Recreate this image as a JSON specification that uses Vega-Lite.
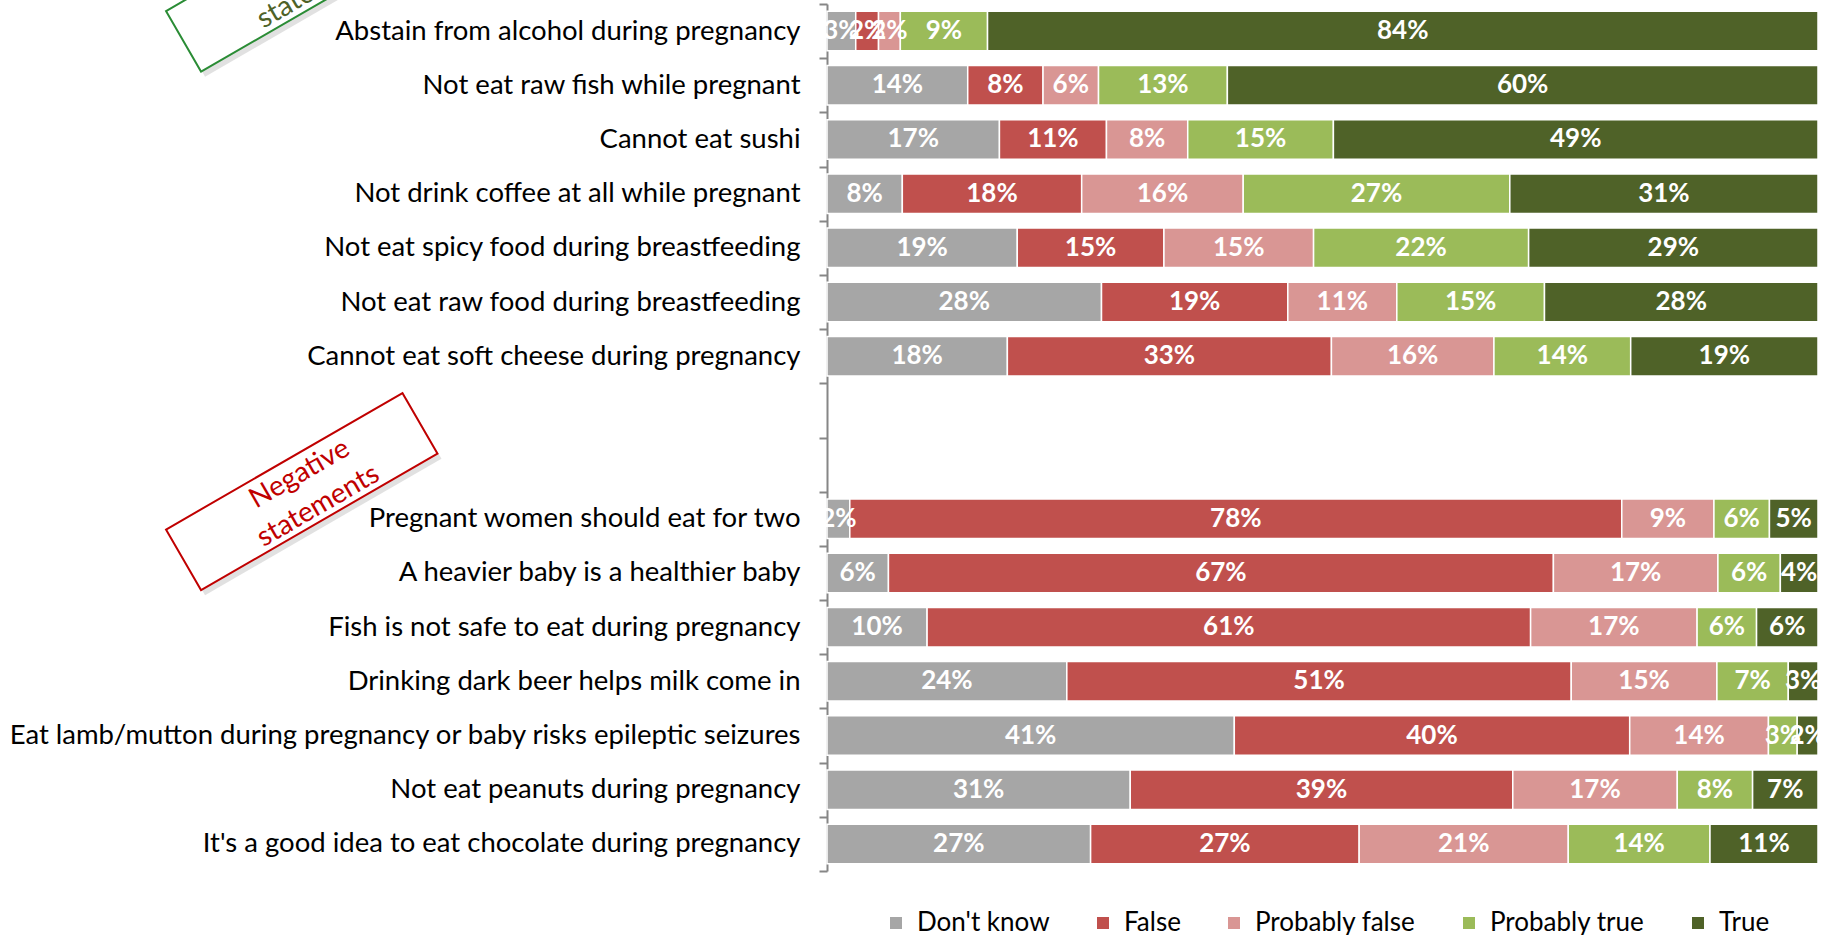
{
  "$schema": "https://vega.github.io/schema/vega-lite/v6.json",
  "width": 991,
  "height": 867,
  "autosize": {"type": "none"},
  "padding": {"left": 827, "top": 4, "right": 6, "bottom": 64},
  "background": "white",
  "config": {
    "view": {"stroke": null},
    "font": "Lato"
  },
  "datasets": {
    "survey": [
      {"statement": "Abstain from alcohol during pregnancy", "answer": "Don't know", "share": 0.029},
      {"statement": "Abstain from alcohol during pregnancy", "answer": "False", "share": 0.023},
      {"statement": "Abstain from alcohol during pregnancy", "answer": "Probably false", "share": 0.022},
      {"statement": "Abstain from alcohol during pregnancy", "answer": "Probably true", "share": 0.088},
      {"statement": "Abstain from alcohol during pregnancy", "answer": "True", "share": 0.838},
      {"statement": "Not eat raw fish while pregnant", "answer": "Don't know", "share": 0.142},
      {"statement": "Not eat raw fish while pregnant", "answer": "False", "share": 0.076},
      {"statement": "Not eat raw fish while pregnant", "answer": "Probably false", "share": 0.056},
      {"statement": "Not eat raw fish while pregnant", "answer": "Probably true", "share": 0.130},
      {"statement": "Not eat raw fish while pregnant", "answer": "True", "share": 0.596},
      {"statement": "Cannot eat sushi", "answer": "Don't know", "share": 0.174},
      {"statement": "Cannot eat sushi", "answer": "False", "share": 0.108},
      {"statement": "Cannot eat sushi", "answer": "Probably false", "share": 0.082},
      {"statement": "Cannot eat sushi", "answer": "Probably true", "share": 0.147},
      {"statement": "Cannot eat sushi", "answer": "True", "share": 0.489},
      {"statement": "Not drink coffee at all while pregnant", "answer": "Don't know", "share": 0.076},
      {"statement": "Not drink coffee at all while pregnant", "answer": "False", "share": 0.181},
      {"statement": "Not drink coffee at all while pregnant", "answer": "Probably false", "share": 0.163},
      {"statement": "Not drink coffee at all while pregnant", "answer": "Probably true", "share": 0.269},
      {"statement": "Not drink coffee at all while pregnant", "answer": "True", "share": 0.311},
      {"statement": "Not eat spicy food during breastfeeding", "answer": "Don't know", "share": 0.192},
      {"statement": "Not eat spicy food during breastfeeding", "answer": "False", "share": 0.148},
      {"statement": "Not eat spicy food during breastfeeding", "answer": "Probably false", "share": 0.151},
      {"statement": "Not eat spicy food during breastfeeding", "answer": "Probably true", "share": 0.217},
      {"statement": "Not eat spicy food during breastfeeding", "answer": "True", "share": 0.292},
      {"statement": "Not eat raw food during breastfeeding", "answer": "Don't know", "share": 0.277},
      {"statement": "Not eat raw food during breastfeeding", "answer": "False", "share": 0.188},
      {"statement": "Not eat raw food during breastfeeding", "answer": "Probably false", "share": 0.110},
      {"statement": "Not eat raw food during breastfeeding", "answer": "Probably true", "share": 0.149},
      {"statement": "Not eat raw food during breastfeeding", "answer": "True", "share": 0.276},
      {"statement": "Cannot eat soft cheese during pregnancy", "answer": "Don't know", "share": 0.182},
      {"statement": "Cannot eat soft cheese during pregnancy", "answer": "False", "share": 0.327},
      {"statement": "Cannot eat soft cheese during pregnancy", "answer": "Probably false", "share": 0.164},
      {"statement": "Cannot eat soft cheese during pregnancy", "answer": "Probably true", "share": 0.138},
      {"statement": "Cannot eat soft cheese during pregnancy", "answer": "True", "share": 0.189},
      {"statement": "Pregnant women should eat for two", "answer": "Don't know", "share": 0.023},
      {"statement": "Pregnant women should eat for two", "answer": "False", "share": 0.779},
      {"statement": "Pregnant women should eat for two", "answer": "Probably false", "share": 0.093},
      {"statement": "Pregnant women should eat for two", "answer": "Probably true", "share": 0.056},
      {"statement": "Pregnant women should eat for two", "answer": "True", "share": 0.049},
      {"statement": "A heavier baby is a healthier baby", "answer": "Don't know", "share": 0.062},
      {"statement": "A heavier baby is a healthier baby", "answer": "False", "share": 0.671},
      {"statement": "A heavier baby is a healthier baby", "answer": "Probably false", "share": 0.166},
      {"statement": "A heavier baby is a healthier baby", "answer": "Probably true", "share": 0.063},
      {"statement": "A heavier baby is a healthier baby", "answer": "True", "share": 0.038},
      {"statement": "Fish is not safe to eat during pregnancy", "answer": "Don't know", "share": 0.101},
      {"statement": "Fish is not safe to eat during pregnancy", "answer": "False", "share": 0.609},
      {"statement": "Fish is not safe to eat during pregnancy", "answer": "Probably false", "share": 0.168},
      {"statement": "Fish is not safe to eat during pregnancy", "answer": "Probably true", "share": 0.060},
      {"statement": "Fish is not safe to eat during pregnancy", "answer": "True", "share": 0.062},
      {"statement": "Drinking dark beer helps milk come in", "answer": "Don't know", "share": 0.242},
      {"statement": "Drinking dark beer helps milk come in", "answer": "False", "share": 0.509},
      {"statement": "Drinking dark beer helps milk come in", "answer": "Probably false", "share": 0.147},
      {"statement": "Drinking dark beer helps milk come in", "answer": "Probably true", "share": 0.072},
      {"statement": "Drinking dark beer helps milk come in", "answer": "True", "share": 0.030},
      {"statement": "Eat lamb/mutton during pregnancy or baby risks epileptic seizures", "answer": "Don't know", "share": 0.411},
      {"statement": "Eat lamb/mutton during pregnancy or baby risks epileptic seizures", "answer": "False", "share": 0.399},
      {"statement": "Eat lamb/mutton during pregnancy or baby risks epileptic seizures", "answer": "Probably false", "share": 0.140},
      {"statement": "Eat lamb/mutton during pregnancy or baby risks epileptic seizures", "answer": "Probably true", "share": 0.029},
      {"statement": "Eat lamb/mutton during pregnancy or baby risks epileptic seizures", "answer": "True", "share": 0.021},
      {"statement": "Not eat peanuts during pregnancy", "answer": "Don't know", "share": 0.306},
      {"statement": "Not eat peanuts during pregnancy", "answer": "False", "share": 0.386},
      {"statement": "Not eat peanuts during pregnancy", "answer": "Probably false", "share": 0.166},
      {"statement": "Not eat peanuts during pregnancy", "answer": "Probably true", "share": 0.076},
      {"statement": "Not eat peanuts during pregnancy", "answer": "True", "share": 0.066},
      {"statement": "It's a good idea to eat chocolate during pregnancy", "answer": "Don't know", "share": 0.266},
      {"statement": "It's a good idea to eat chocolate during pregnancy", "answer": "False", "share": 0.271},
      {"statement": "It's a good idea to eat chocolate during pregnancy", "answer": "Probably false", "share": 0.211},
      {"statement": "It's a good idea to eat chocolate during pregnancy", "answer": "Probably true", "share": 0.143},
      {"statement": "It's a good idea to eat chocolate during pregnancy", "answer": "True", "share": 0.109}
    ],
    "notes": [
      {"group": "Positive", "line": 1, "note": "Positive"},
      {"group": "Positive", "line": 2, "note": "statements"},
      {"group": "Negative", "line": 1, "note": "Negative"},
      {"group": "Negative", "line": 2, "note": "statements"}
    ]
  },
  "layer": [
    {
      "data": {"name": "survey"},
      "mark": {"type": "bar", "stroke": "white", "strokeWidth": 1.5, "height": {"band": 0.73}},
      "encoding": {
        "y": {
          "field": "statement",
          "type": "nominal",
          "scale": {
            "domain": [
              "Abstain from alcohol during pregnancy",
              "Not eat raw fish while pregnant",
              "Cannot eat sushi",
              "Not drink coffee at all while pregnant",
              "Not eat spicy food during breastfeeding",
              "Not eat raw food during breastfeeding",
              "Cannot eat soft cheese during pregnancy",
              "gap1",
              "gap2",
              "Pregnant women should eat for two",
              "A heavier baby is a healthier baby",
              "Fish is not safe to eat during pregnancy",
              "Drinking dark beer helps milk come in",
              "Eat lamb/mutton during pregnancy or baby risks epileptic seizures",
              "Not eat peanuts during pregnancy",
              "It's a good idea to eat chocolate during pregnancy"
            ],
            "paddingInner": 0,
            "paddingOuter": 0
          },
          "axis": {
            "title": null,
            "domainColor": "#868686",
            "domainWidth": 2,
            "tickColor": "#868686",
            "tickWidth": 2,
            "tickSize": 8,
            "tickBand": "extent",
            "labelFontSize": 27.5,
            "labelFont": "Lato",
            "labelColor": "black",
            "labelPadding": 19,
            "labelLimit": 900,
            "labelExpr": "datum.label == 'gap1' || datum.label == 'gap2' ? '' : datum.label"
          }
        },
        "x": {
          "field": "share",
          "type": "quantitative",
          "stack": "zero",
          "scale": {"domain": [0, 1], "nice": false},
          "axis": null
        },
        "color": {
          "field": "answer",
          "type": "nominal",
          "scale": {
            "domain": ["Don't know", "False", "Probably false", "Probably true", "True"],
            "range": ["#A6A6A6", "#C0504D", "#D99694", "#9BBB59", "#4F6228"]
          },
          "legend": {
            "title": null,
            "orient": "none",
            "legendX": 56,
            "legendY": 906,
            "direction": "horizontal",
            "symbolType": "square",
            "symbolSize": 144,
            "symbolStrokeWidth": 0,
            "labelFontSize": 26,
            "labelFont": "Lato",
            "labelColor": "black",
            "labelLimit": 400,
            "labelOffset": 8,
            "columnPadding": 40
          }
        },
        "order": {"field": "answer", "type": "ordinal", "sort": "ascending"}
      }
    },
    {
      "data": {"name": "survey"},
      "mark": {"type": "text", "color": "white", "fontWeight": "bold", "fontSize": 26, "font": "Lato", "baseline": "middle", "align": "center"},
      "encoding": {
        "y": {"field": "statement", "type": "nominal"},
        "x": {"field": "share", "type": "quantitative", "stack": "zero", "bandPosition": 0.5},
        "detail": {"field": "answer", "type": "nominal"},
        "order": {"field": "answer", "type": "ordinal", "sort": "ascending"},
        "text": {"field": "share", "type": "quantitative", "format": ".0%"}
      }
    },
    {
      "data": {"name": "notes"},
      "transform": [{"filter": "datum.group == 'Negative' && datum.line == 1"}],
      "layer": [
        {
          "mark": {"type": "point", "shape": "M-1,-0.2564L1,-0.2564L1,0.2564L-1,0.2564Z", "size": 74529, "angle": -30, "filled": true, "fill": "#9a9a9a", "opacity": 0.3, "strokeWidth": 0, "xOffset": 4, "yOffset": 32},
          "encoding": {"x": {"datum": -0.53, "type": "quantitative"}, "y": {"datum": "gap2", "type": "nominal"}}
        },
        {
          "mark": {"type": "point", "shape": "M-1,-0.2564L1,-0.2564L1,0.2564L-1,0.2564Z", "size": 74529, "angle": -30, "filled": true, "fill": "white", "stroke": "#C00000", "strokeWidth": 2, "opacity": 1, "yOffset": 27},
          "encoding": {"x": {"datum": -0.53, "type": "quantitative"}, "y": {"datum": "gap2", "type": "nominal"}}
        },
        {
          "mark": {"type": "text", "angle": -30, "color": "#C00000", "fontSize": 28, "font": "Lato", "align": "center", "baseline": "middle", "xOffset": -2, "yOffset": 9.6},
          "encoding": {"x": {"datum": -0.53, "type": "quantitative"}, "y": {"datum": "gap2", "type": "nominal"}, "text": {"field": "note"}}
        }
      ]
    },
    {
      "data": {"name": "notes"},
      "transform": [{"filter": "datum.group == 'Negative' && datum.line == 2"}],
      "mark": {"type": "text", "angle": -30, "color": "#C00000", "fontSize": 28, "font": "Lato", "align": "center", "baseline": "middle", "xOffset": 16.6, "yOffset": 41.7},
      "encoding": {"x": {"datum": -0.53, "type": "quantitative"}, "y": {"datum": "gap2", "type": "nominal"}, "text": {"field": "note"}}
    },
    {
      "data": {"name": "notes"},
      "transform": [{"filter": "datum.group == 'Positive' && datum.line == 1"}],
      "layer": [
        {
          "mark": {"type": "point", "shape": "M-1,-0.2564L1,-0.2564L1,0.2564L-1,0.2564Z", "size": 74529, "angle": -30, "filled": true, "fill": "#9a9a9a", "opacity": 0.3, "strokeWidth": 0, "xOffset": 4, "yOffset": -53},
          "encoding": {"x": {"datum": -0.53, "type": "quantitative"}, "y": {"datum": "Abstain from alcohol during pregnancy", "type": "nominal"}}
        },
        {
          "mark": {"type": "point", "shape": "M-1,-0.2564L1,-0.2564L1,0.2564L-1,0.2564Z", "size": 74529, "angle": -30, "filled": true, "fill": "white", "stroke": "#2A8C35", "strokeWidth": 2, "opacity": 1, "yOffset": -58},
          "encoding": {"x": {"datum": -0.53, "type": "quantitative"}, "y": {"datum": "Abstain from alcohol during pregnancy", "type": "nominal"}}
        },
        {
          "mark": {"type": "text", "angle": -30, "color": "#4F6228", "fontSize": 28, "font": "Lato", "align": "center", "baseline": "middle", "xOffset": -2, "yOffset": -75.4},
          "encoding": {"x": {"datum": -0.53, "type": "quantitative"}, "y": {"datum": "Abstain from alcohol during pregnancy", "type": "nominal"}, "text": {"field": "note"}}
        }
      ]
    },
    {
      "data": {"name": "notes"},
      "transform": [{"filter": "datum.group == 'Positive' && datum.line == 2"}],
      "mark": {"type": "text", "angle": -30, "color": "#4F6228", "fontSize": 28, "font": "Lato", "align": "center", "baseline": "middle", "xOffset": 16.6, "yOffset": -43.3},
      "encoding": {"x": {"datum": -0.53, "type": "quantitative"}, "y": {"datum": "Abstain from alcohol during pregnancy", "type": "nominal"}, "text": {"field": "note"}}
    }
  ]
}
